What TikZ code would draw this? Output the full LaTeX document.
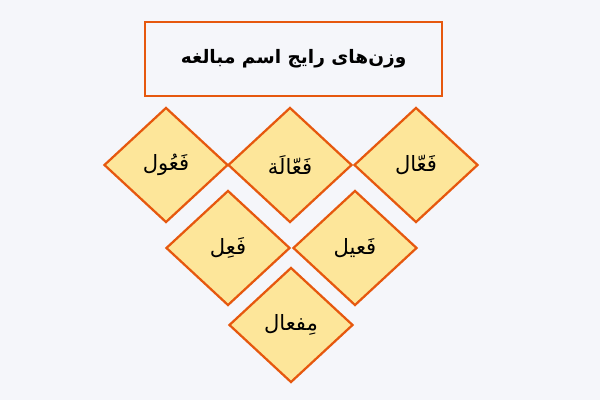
\documentclass[tikz,border=0pt]{standalone}
\usepackage{fontspec}
\usepackage{tikz}
\usetikzlibrary{shapes.geometric}
\TeXXeTstate=1
\newfontfamily\arabicfont[Script=Arabic]{DejaVu Sans}

\begin{document}
\begin{tikzpicture}
% Define colours
\definecolor{paper}{RGB}{245,246,250}
\definecolor{edge}{RGB}{230,88,14}
\definecolor{leaf}{RGB}{253,230,154}
\tikzset{
  wazn/.style={diamond,draw=edge,fill=leaf,line width=1.6pt,inner sep=0pt,
    minimum width=3.1cm,minimum height=2.875cm,font=\arabicfont\fontsize{15}{18}\selectfont},
  titlebox/.style={rectangle,draw=edge,fill=paper,line width=1.6pt,
    minimum width=7.425cm,minimum height=1.85cm,font=\arabicfont\bfseries\fontsize{13.2}{16}\selectfont}
}

% Draw background
\fill[paper] (0,0) rectangle (15,10);
\useasboundingbox (0,0) rectangle (15,10);

% Add title
\node[titlebox] (title) at (7.34,8.525) {\beginR وزن‌های رایج اسم مبالغه\endR};

% Draw weights
\node[wazn] (faool) at (4.15,5.875) {\beginR فَعُول\endR};
\node[wazn] (faaala) at (7.25,5.875) {\beginR فَعّالَة\endR};
\node[wazn] (faaal) at (10.4,5.875) {\beginR فَعّال\endR};
\node[wazn] (fael) at (5.7,3.8) {\beginR فَعِل\endR};
\node[wazn] (faeel) at (8.875,3.8) {\beginR فَعیل\endR};
\node[wazn] (mefaal) at (7.275,1.875) {\beginR مِفعال\endR};
\end{tikzpicture}
\end{document}
